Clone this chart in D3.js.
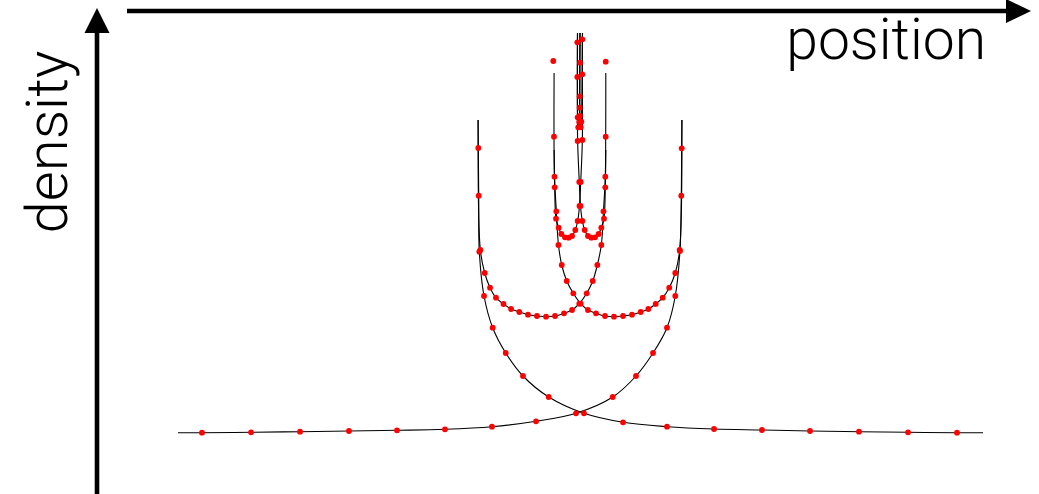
<!DOCTYPE html>
<html>
<head>
<meta charset="utf-8">
<script src="https://cdn.jsdelivr.net/npm/d3@7/dist/d3.min.js"></script>
<style>
  html, body { margin: 0; padding: 0; background: #fff; }
  svg { display: block; }
  .label { font-family: "Roboto", "Liberation Sans", "DejaVu Sans", sans-serif; font-weight: 300; fill: #000; }
</style>
</head>
<body>
<svg id="chart" width="1039" height="494"></svg>
<script>
// Density profiles: [position, density] samples along each branch.
// Each branch has its line end points and the sampled (dotted) states.

// Widest pair: flat tail on one side, steep wall at |position| = 1.
const branch1R_ends = [[-3.941, 0.073], [1.000, 3.200]];
const branch1R_dots = [
  [-3.706, 0.073], [-3.225, 0.077], [-2.745, 0.083], [-2.265, 0.090],
  [-1.794, 0.097], [-1.324, 0.107], [-0.863, 0.133], [-0.431, 0.187],
  [-0.039, 0.267], [0.321, 0.430], [0.549, 0.640], [0.716, 0.870],
  [0.853, 1.123], [0.934, 1.440], [0.980, 1.890], [0.993, 2.443],
  [0.997, 2.917]
];
const branch1L_ends = [[3.951, 0.073], [-1.000, 3.200]];
const branch1L_dots = [
  [3.696, 0.073], [3.216, 0.077], [2.735, 0.083], [2.255, 0.090],
  [1.784, 0.100], [1.314, 0.110], [0.853, 0.133], [0.422, 0.177],
  [0.039, 0.267], [-0.307, 0.430], [-0.559, 0.640], [-0.728, 0.870],
  [-0.856, 1.123], [-0.941, 1.440], [-0.987, 1.883], [-0.993, 2.443],
  [-0.997, 2.920]
];

// Second pair: walls at -1 / +0.253 and -0.254 / +1.
const branch2R_ends = [[-0.998, 3.200], [0.253, 3.670]];
const branch2R_dots = [
  [-0.977, 1.900], [-0.934, 1.670], [-0.882, 1.523], [-0.824, 1.423],
  [-0.750, 1.360], [-0.676, 1.310], [-0.595, 1.280], [-0.510, 1.253],
  [-0.422, 1.240], [-0.333, 1.233], [-0.245, 1.240], [-0.157, 1.267],
  [-0.078, 1.300], [-0.007, 1.363], [0.066, 1.467], [0.125, 1.590],
  [0.170, 1.750], [0.209, 1.950], [0.230, 2.287], [0.248, 2.633],
  [0.252, 3.033], [0.252, 3.783]
];
const branch2L_ends = [[0.998, 3.200], [-0.254, 3.670]];
const branch2L_dots = [
  [0.977, 1.900], [0.934, 1.670], [0.875, 1.523], [0.811, 1.423],
  [0.742, 1.360], [0.670, 1.310], [0.595, 1.280], [0.510, 1.253],
  [0.422, 1.240], [0.333, 1.233], [0.245, 1.240], [0.157, 1.267],
  [0.078, 1.300], [0.007, 1.363], [-0.066, 1.467], [-0.130, 1.590],
  [-0.179, 1.750], [-0.211, 1.950], [-0.232, 2.287], [-0.250, 2.633],
  [-0.255, 3.033], [-0.262, 3.790]
];

// Third pair: the small double well between -0.25 and +0.25.
const branch3R_ends = [[-0.253, 2.900], [0.025, 4.070]];
const branch3R_dots = [
  [-0.248, 2.527], [-0.235, 2.213], [-0.209, 2.123], [-0.183, 2.060],
  [-0.147, 2.027], [-0.111, 2.023], [-0.078, 2.040], [-0.046, 2.100],
  [-0.023, 2.190], [-0.005, 2.340], [0.007, 2.580], [0.023, 3.000],
  [0.023, 3.657], [0.023, 4.007]
];
const branch3L_ends = [[0.253, 2.900], [-0.025, 4.070]];
const branch3L_dots = [
  [0.248, 2.527], [0.235, 2.213], [0.209, 2.123], [0.183, 2.060],
  [0.147, 2.027], [0.111, 2.023], [0.078, 2.040], [0.046, 2.100],
  [0.023, 2.190], [0.005, 2.340], [-0.007, 2.580], [-0.023, 2.990],
  [-0.026, 3.630], [-0.026, 3.977]
];

// Narrowest pair, squeezed around the origin.
const branch4R_ends = [[-0.024, 4.070], [0.002, 4.070]];
const branch4R_dots = [
  [-0.023, 3.227], [-0.017, 3.127], [-0.007, 3.180], [-0.003, 3.323],
  [0.000, 3.773]
];
const branch4L_ends = [[0.024, 4.070], [-0.002, 4.070]];
const branch4L_dots = [
  [0.013, 3.183], [0.007, 3.127], [-0.001, 3.240], [-0.003, 3.437]
];

const branches = [
  { ends: branch1R_ends, dots: branch1R_dots },
  { ends: branch1L_ends, dots: branch1L_dots },
  { ends: branch2R_ends, dots: branch2R_dots },
  { ends: branch2L_ends, dots: branch2L_dots },
  { ends: branch3R_ends, dots: branch3R_dots },
  { ends: branch3L_ends, dots: branch3L_dots },
  { ends: branch4R_ends, dots: branch4R_dots },
  { ends: branch4L_ends, dots: branch4L_dots }
];

const axisLabels = { x: "position", y: "density" };

const svg = d3.select("#chart");
const W = 1039, H = 494;

const x = d3.scaleLinear().domain([-1, 1]).range([478, 682]);
const y = d3.scaleLinear().domain([0, 3.2]).range([440, 120]);

// Axis arrows: density runs upward on the left, position runs along the top.
const axisColor = "#000";
const yAxisX = 97, xAxisY = 11;
svg.append("line")
  .attr("x1", yAxisX).attr("y1", H).attr("x2", yAxisX).attr("y2", 30)
  .attr("stroke", axisColor).attr("stroke-width", 4.6);
svg.append("path")
  .attr("d", `M${yAxisX},8 L${yAxisX + 12.5},33 L${yAxisX - 12.5},33 Z`)
  .attr("fill", axisColor);
svg.append("line")
  .attr("x1", 127).attr("y1", xAxisY).attr("x2", 1010).attr("y2", xAxisY)
  .attr("stroke", axisColor).attr("stroke-width", 4.6);
svg.append("path")
  .attr("d", `M1031,${xAxisY} L1006,${xAxisY - 12} L1006,${xAxisY + 12} Z`)
  .attr("fill", axisColor);

svg.append("text")
  .attr("class", "label")
  .attr("x", 986).attr("y", 59)
  .attr("text-anchor", "end")
  .attr("font-size", 57)
  .text(axisLabels.x);
svg.append("text")
  .attr("class", "label")
  .attr("transform", "translate(67,142) rotate(-90)")
  .attr("text-anchor", "middle")
  .attr("font-size", 58)
  .text(axisLabels.y);

// Lines pass through the samples that sit below the branch's upper end.
const line = d3.line()
  .x(d => x(d[0])).y(d => y(d[1]))
  .curve(d3.curveCatmullRom.alpha(0.5));

const traces = branches.map(b => {
  const cap = b.ends[1][1];
  return [b.ends[0], ...b.dots.filter(d => d[1] < cap), b.ends[1]];
});

svg.append("g")
  .selectAll("path")
  .data(traces)
  .join("path")
  .attr("d", line)
  .attr("fill", "none")
  .attr("stroke", "#000")
  .attr("stroke-width", 1.1);

svg.append("g")
  .selectAll("g")
  .data(branches)
  .join("g")
  .selectAll("circle")
  .data(b => b.dots)
  .join("circle")
  .attr("cx", d => x(d[0]))
  .attr("cy", d => y(d[1]))
  .attr("r", 2.9)
  .attr("fill", "#ff0000");
</script>
</body>
</html>
